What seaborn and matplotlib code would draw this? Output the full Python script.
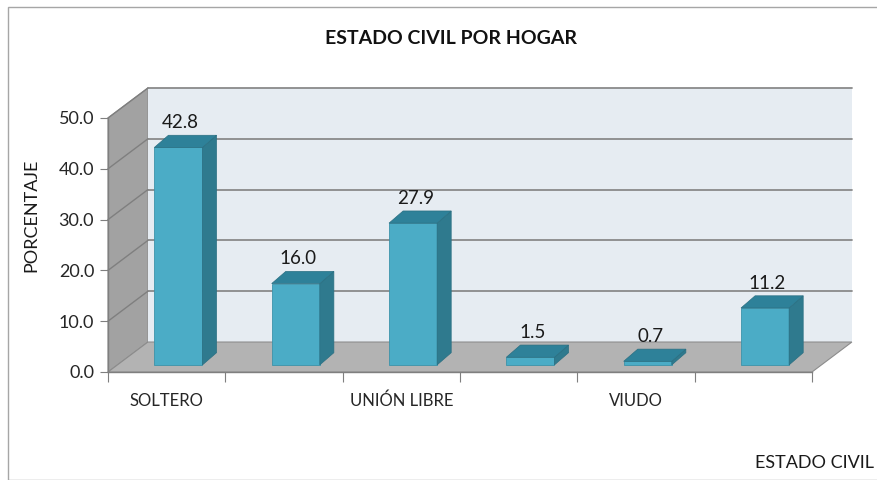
import pandas as pd
import matplotlib
matplotlib.use("Agg")
import matplotlib.pyplot as plt
from matplotlib.patches import Polygon, Rectangle
import seaborn as sns

# datos
posiciones = [0, 1, 2, 3, 4, 5]
valores = [42.8, 16.0, 27.9, 1.5, 0.7, 11.2]
etiquetas = ["SOLTERO", "", "UNIÓN LIBRE", "", "VIUDO", ""]
yticks = [0, 10, 20, 30, 40, 50]

df = pd.DataFrame({"pos": posiciones, "valor": valores})

sns.set_style("white")
plt.rcParams['font.family'] = ['Lato', 'DejaVu Sans']

fig = plt.figure(figsize=(8.77, 4.8), dpi=100)
ax = fig.add_axes([108/877, 108/480, 704/877, 254/480])

# 3d look parameters (data units)
off = 0.1          # bars sit a bit behind the front edge
dx, dy = 0.34, 5.9  # wall depth
bar_oy = 1.4
bdx, bdy = 0.12, 2.4
x0, x1 = -0.5 - off, 5.5 - off
top = 50

# side wall
ax.add_patch(Polygon([(x0, 0), (x0 + dx, dy), (x0 + dx, top + dy), (x0, top)],
                     closed=True, facecolor="#a2a2a2", edgecolor="#8c8c8c",
                     lw=0.8, zorder=0.2, clip_on=False))
# back wall
ax.add_patch(Polygon([(x0 + dx, dy), (x1 + dx, dy), (x1 + dx, top + dy), (x0 + dx, top + dy)],
                     closed=True, facecolor="#e6ecf2", edgecolor="none",
                     zorder=0.2, clip_on=False))
for v in yticks[1:]:
    ax.plot([x0 + dx, x1 + dx], [v + dy, v + dy], color="#8a8a8a", lw=1.3,
            zorder=0.3, clip_on=False)
    ax.plot([x0, x0 + dx], [v, v + dy], color="#7f7f7f", lw=1.0,
            zorder=0.3, clip_on=False)
# floor
ax.add_patch(Polygon([(x0, 0), (x1, 0), (x1 + dx, dy), (x0 + dx, dy)],
                     closed=True, facecolor="#b3b3b3", edgecolor="#8c8c8c",
                     lw=0.8, zorder=0.5, clip_on=False))

sns.barplot(data=df, x="pos", y="valor", color="#4bacc6", saturation=1,
            width=0.41, ax=ax, zorder=2, edgecolor="#3d93aa", linewidth=0.6)

for p, v in zip(ax.patches[-len(valores):], valores):
    p.set_y(bar_oy)
    xl, w, h = p.get_x(), p.get_width(), p.get_height()
    ax.add_patch(Polygon([(xl + w, bar_oy), (xl + w + bdx, bar_oy + bdy),
                          (xl + w + bdx, bar_oy + h + bdy), (xl + w, bar_oy + h)],
                         closed=True, facecolor="#2f7a8e", edgecolor="#2a6f82",
                         lw=0.5, zorder=2, clip_on=False))
    ax.add_patch(Polygon([(xl, bar_oy + h), (xl + w, bar_oy + h),
                          (xl + w + bdx, bar_oy + h + bdy), (xl + bdx, bar_oy + h + bdy)],
                         closed=True, facecolor="#2e8199", edgecolor="#2a6f82",
                         lw=0.5, zorder=2, clip_on=False))
    ax.text(xl + w / 2 + 0.02, bar_oy + h + bdy + 0.8, f"{v:.1f}",
            ha="center", va="bottom", fontsize=13.5, color="#1a1a1a", zorder=3)

ax.set_xlim(x0, x1)
ax.set_ylim(0, top)
ax.set_facecolor("none")
ax.set_xlabel("")
ax.set_ylabel("")

ax.set_yticks(yticks)
ax.set_yticklabels([f"{t:.1f}" for t in yticks])
ax.set_xticks([x0 + k for k in range(7)])
ax.set_xticklabels([])
ax.set_xticks([k - off for k in posiciones], minor=True)
ax.set_xticklabels(etiquetas, minor=True)
ax.tick_params(axis="y", which="major", length=6, color="#7f7f7f",
               labelsize=13, pad=4, left=True)
ax.tick_params(axis="x", which="major", length=7, color="#7f7f7f", bottom=True)
ax.tick_params(axis="x", which="minor", length=0, labelsize=12, pad=15)

for s in ["top", "right"]:
    ax.spines[s].set_visible(False)
for s in ["left", "bottom"]:
    ax.spines[s].set_color("#7f7f7f")
    ax.spines[s].set_linewidth(1.0)

fig.text(451/877, 1 - 38/480, "ESTADO CIVIL POR HOGAR", ha="center", va="center",
         fontsize=14, fontweight="bold", color="#111111")
fig.text(31/877, 1 - 215/480, "PORCENTAJE", rotation=90, ha="center", va="center",
         fontsize=13, color="#1a1a1a")
fig.text(755/877, 1 - 463/480, "ESTADO CIVIL", ha="left", va="center",
         fontsize=13, color="#1a1a1a")

fig.patches.append(Rectangle((8/877, 0), 1, 1 - 7/480, transform=fig.transFigure,
                             fill=False, edgecolor="#a6a6a6", lw=1.0))

fig.savefig("out.png", dpi=100)
